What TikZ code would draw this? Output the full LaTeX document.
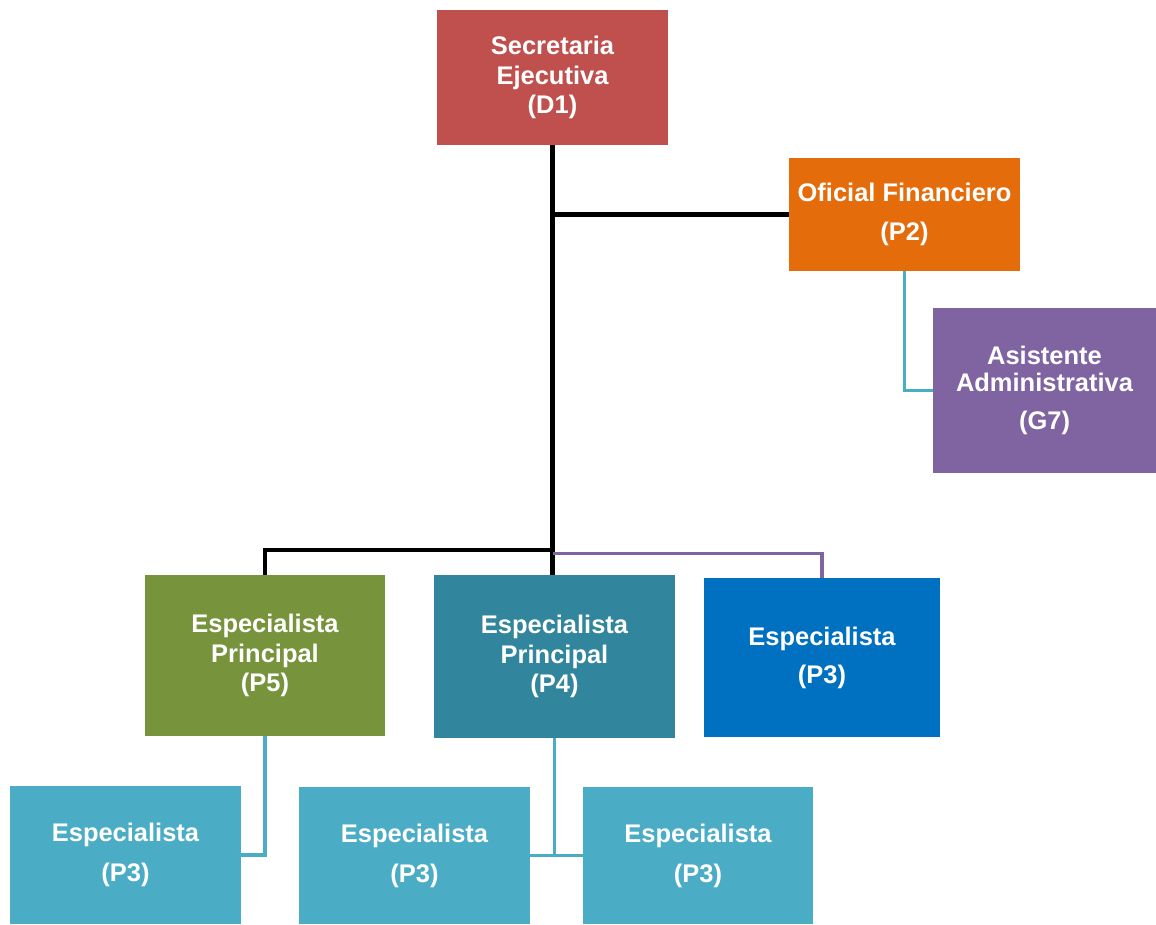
\documentclass[tikz,border=0pt]{standalone}
\usepackage{fontspec}
\setmainfont{Liberation Sans}
\usepackage{tikz}

\definecolor{boxred}{HTML}{C0504D}
\definecolor{boxorange}{HTML}{E46C0A}
\definecolor{boxpurple}{HTML}{8064A2}
\definecolor{boxgreen}{HTML}{77933C}
\definecolor{boxteal}{HTML}{31859C}
\definecolor{boxblue}{HTML}{0070C0}
\definecolor{boxaqua}{HTML}{4BACC6}

\begin{document}
\begin{tikzpicture}[x=0.02cm,y=-0.02cm,
                    main node/.style={rectangle,inner sep=0pt,align=center,text=white,
                      font=\fontsize{14.5}{17}\selectfont\bfseries,
                      minimum width=4.62cm},
                    top line/.style={line width=2.4pt,black},
                    sub line/.style={line width=2.1pt,boxaqua},
                    side line/.style={line width=2pt,boxpurple}]

  \useasboundingbox (0,0) rectangle (1156,925);

  \node[main node,fill=boxred,minimum height=2.7cm] (d1) at (552.5,77.5) {Secretaria\\Ejecutiva\\(D1)};
  \node[main node,fill=boxorange,minimum height=2.26cm] (p2) at (904.5,214.5) {Oficial Financiero\\[0.18cm](P2)};
  \node[main node,fill=boxpurple,minimum width=4.46cm,minimum height=3.3cm] (g7) at (1044.5,390.5) {Asistente\\[-0.06cm]Administrativa\\[0.16cm](G7)};

  \node[main node,fill=boxgreen,minimum width=4.8cm,minimum height=3.22cm] (p5) at (265,655.5) {Especialista\\Principal\\(P5)};
  \node[main node,fill=boxteal,minimum width=4.82cm,minimum height=3.26cm] (p4) at (554.5,656.5) {Especialista\\Principal\\(P4)};
  \node[main node,fill=boxblue,minimum width=4.72cm,minimum height=3.18cm] (p3) at (822,657.5) {Especialista\\[0.16cm](P3)};

  \node[main node,fill=boxaqua,minimum height=2.76cm] (l1) at (125.5,855) {Especialista\\[0.2cm](P3)};
  \node[main node,fill=boxaqua,minimum height=2.74cm] (l2) at (414.5,855.5) {Especialista\\[0.2cm](P3)};
  \node[main node,fill=boxaqua,minimum width=4.6cm,minimum height=2.74cm] (l3) at (698,855.5) {Especialista\\[0.2cm](P3)};

  \coordinate (hub) at (d1.south |- 0,550);

  % trunk and first level
  \draw[top line] (d1.south) -- (hub);
  \draw[top line] (d1.south |- p2.west) -- (p2.west);
  \draw[top line] (p5.north) |- (hub) -- (hub |- p4.north);
  \draw[side line] ([yshift=-2pt]hub) -| (p3.north);

  % lower levels
  \draw[sub line] (p2.south) |- (g7.west);
  \draw[sub line] (p5.south) |- (l1.east);
  \draw[sub line] (p4.south) -- (p4.south |- l2.east);
  \draw[sub line] (l2.east) -- (l3.west);
\end{tikzpicture}
\end{document}
